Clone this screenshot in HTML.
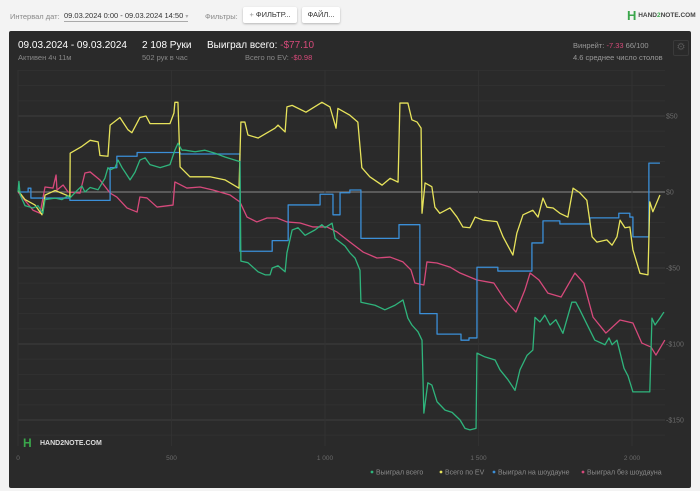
<!DOCTYPE html>
<html><head><meta charset="utf-8"><style>
body{margin:0;width:700px;height:491px;background:#f3f3f3;font-family:"Liberation Sans",sans-serif;overflow:hidden;position:relative}
.t{position:absolute;white-space:nowrap}
.btn{position:absolute;background:#fff;border-radius:2px;box-shadow:0 1px 2px rgba(0,0,0,.25);font-size:7.5px;color:#333;text-align:center;line-height:16px}
#panel{position:absolute;left:9px;top:31px;width:682px;height:457px;background:#2a2a2a;border-radius:2px}
</style></head><body>
<div class="t" style="left:10px;top:12px;font-size:7.5px;color:#888">Интервал дат:</div>
<div class="t" style="left:64px;top:11px;font-size:7.5px;color:#333;border-bottom:1px solid #aaa;padding-bottom:1px">09.03.2024 0:00 - 09.03.2024 14:50 <span style="color:#aaa;font-size:6px">▾</span></div>
<div class="t" style="left:205px;top:12px;font-size:7.5px;color:#888">Фильтры:</div>
<div class="btn" style="left:243px;top:7px;width:54px;height:16px"><span style="color:#999">+ </span>ФИЛЬТР...</div>
<div class="btn" style="left:302px;top:7px;width:38px;height:16px">ФАЙЛ...</div>
<div class="t" style="left:627px;top:8px;font-size:6.5px;color:#444;font-weight:bold"><span style="color:#3aa64b;font-size:13px;vertical-align:middle">H</span> HAND<span style="color:#3aa64b">2</span>NOTE.COM</div>
<div id="panel"></div>
<div class="t" style="left:18px;top:40px;font-size:10px;color:#fff">09.03.2024 - 09.03.2024</div>
<div class="t" style="left:18px;top:53px;font-size:7.5px;color:#888">Активен 4ч 11м</div>
<div class="t" style="left:142px;top:40px;font-size:10px;color:#fff">2 108 Руки</div>
<div class="t" style="left:142px;top:53px;font-size:7.5px;color:#888">502 рук в час</div>
<div class="t" style="left:207px;top:40px;font-size:10px;color:#fff">Выиграл всего: <span style="color:#d64a7a">-$77.10</span></div>
<div class="t" style="left:245px;top:53px;font-size:7.5px;color:#888">Всего по EV: <span style="color:#d64a7a">-$0.98</span></div>
<div class="t" style="left:573px;top:41px;font-size:7.5px;color:#999">Винрейт: <span style="color:#d64a7a">-7.33</span> 66/100</div>
<div class="t" style="left:573px;top:53px;font-size:7.5px;color:#999">4.6 среднее число столов</div>
<div class="t" style="left:673px;top:40px;width:14px;height:14px;border:1px solid #3a3a3a;border-radius:2px;color:#555;font-size:10px;text-align:center;line-height:14px">⚙</div>
<svg id="chart" width="700" height="491" style="position:absolute;left:0;top:0"></svg>
<script>
const xTicks=[0,500,1000,1500,2000];
const xTickLabels=["0","500","1 000","1 500","2 000"];
const yTicks=[50,0,-50,-100,-150];
const yTickLabels=["$50","$0","-$50","-$100","-$150"];
const seriesNames=["Выиграл всего","Всего по EV","Выиграл на шоудауне","Выиграл без шоудауна"];
const greenHands=[0,3,7,23,49,65,81,88,121,143,163,169,195,208,218,235,261,283,293,300,316,326,339,349,365,381,397,414,430,463,495,511,521,534,544,577,609,642,674,707,723,726,749,782,805,821,828,847,870,876,893,912,935,967,990,1000,1023,1033,1065,1081,1098,1114,1117,1163,1195,1228,1254,1270,1283,1303,1316,1322,1335,1348,1365,1391,1414,1440,1456,1472,1492,1495,1521,1554,1570,1596,1619,1635,1658,1677,1684,1700,1716,1733,1752,1775,1804,1817,1830,1863,1879,1912,1925,1935,1951,1974,1987,2003,2058,2065,2075,2091,2104];
const greenVals=[0,7,-2,-9,-10.5,-9,-14,-5,-4,-5,-2.5,-4,1.5,4,0,3,1.5,9,16,14.5,16,21,16,13,8,13,21,22.5,18,16,18,27.5,32,27.5,27.5,26.5,27.5,25.5,23,21,20,-45.5,-46.5,-52.5,-54.5,-54.5,-50,-48.5,-52.5,-40,-25,-23.5,-28.5,-25,-21.5,-23.5,-20.5,-30.5,-35.5,-40,-43.5,-51.5,-72.5,-74.5,-77.5,-74.5,-71,-83,-87.5,-92,-97.5,-145.5,-125.5,-127,-138,-143.5,-145,-150,-155.5,-156.5,-155.5,-106,-108.5,-110.5,-117,-123.5,-130.5,-117,-107.5,-104,-82.5,-85.5,-81,-87.5,-84,-93,-72.5,-72.5,-77.5,-91,-97.5,-100.5,-96,-100.5,-97.5,-116,-121,-131.5,-131.5,-83,-87.5,-83,-79];
const evHands=[0,23,55,78,88,121,169,170,208,235,261,267,293,300,332,358,371,397,417,430,463,495,508,511,521,528,560,593,625,674,720,726,739,749,782,837,847,870,876,893,938,990,1016,1036,1042,1081,1107,1120,1146,1186,1212,1238,1244,1270,1283,1300,1313,1316,1326,1348,1358,1374,1407,1430,1449,1472,1489,1515,1560,1580,1612,1625,1645,1677,1694,1710,1723,1743,1765,1791,1808,1830,1853,1870,1886,1918,1935,1951,1961,1977,1993,2003,2026,2052,2058,2068,2091];
const evVals=[1,-5,-8.5,-15,-2,1,-3,25.5,30,34,33,24,23.5,44,49,41,39,49,50,45,45,45,52,59,59,16.5,10,10,10,8,2.5,46,46,37.5,35.5,42,44,39.5,56,57,52.5,59,56,42,55,50.5,46,16,10,4.5,9,6.5,58.5,58.5,47.5,46,42,-14,6,3.5,-10,-14,-10.5,-16.5,-23,-23.5,-16.5,-18.5,-19.5,-29.5,-41.5,-27,-15,-12,-16.5,-4,-10,-10.5,-14,-16.5,2.5,-0.5,-5.5,-29.5,-33,-31.5,-35,-29.5,-18.5,-23.5,-23,-38,-53.5,-54.5,-6.5,-13,-2];
const sdHands=[0,33,42,169,300,322,388,528,723,828,880,984,1026,1049,1081,1117,1241,1309,1365,1443,1469,1495,1563,1674,1710,1765,1863,1957,1993,2003,2055,2091];
const sdVals=[0,2.5,-4,-5.5,16,23.5,26,25,-39,-32,-8.5,-1.5,-15,-0.5,1.3,-30.5,-21.5,-80,-93.5,-97.5,-96,-49.5,-52,-33.5,-19,-21,-17,-14,-16.5,-29.5,19,19];
const nsdHands=[0,49,72,88,114,124,127,147,163,202,218,235,267,300,322,355,388,397,420,453,505,511,550,593,635,691,723,746,778,811,844,876,919,961,1006,1039,1081,1124,1169,1212,1254,1280,1293,1322,1332,1365,1407,1440,1495,1550,1586,1622,1651,1668,1697,1726,1769,1814,1843,1873,1915,1961,2003,2032,2062,2078,2107];
const nsdVals=[0,-12,-14,3.3,2.6,11.2,1.3,4.6,0,-0.7,12.5,13.2,7.9,-0.7,-3.3,-10.5,-13.2,-3.3,-3.9,-9.9,-8.6,6.6,2.6,3.3,1.3,-2,-6.6,-16.5,-19.7,-17.1,-17.1,-19.7,-20.4,-23,-23,-26.3,-32.9,-39.5,-43.4,-42.8,-46,-51.3,-59.9,-61.2,-46,-46.7,-49.4,-53.3,-57.9,-59.9,-71,-79,-64.5,-53.3,-57.9,-66.5,-69.1,-53.3,-59.9,-82.3,-92.8,-84.2,-86.2,-99.4,-102,-107.3,-97.4];
const colors=["#2fb47c","#e7e35b","#3b8fd8","#d6497b"];

const svg=document.getElementById('chart');
const NS='http://www.w3.org/2000/svg';
const X=h=>18+h*0.307;
const Y=v=>192-v*1.52;
function mk(tag,attrs){const e=document.createElementNS(NS,tag);for(const k in attrs)e.setAttribute(k,attrs[k]);svg.appendChild(e);return e;}
for(let v=80;v>=-160;v-=10){
  const l=mk('line',{x1:18,x2:665,y1:Y(v),y2:Y(v),stroke:v===0?'#8a8a8a':(v%50===0?'#444444':'#323232'),'stroke-width':v===0?1:0.8});
  
  
}
xTicks.forEach((h,i)=>{
  const l=mk('line',{x1:X(h),x2:X(h),y1:70,y2:446,stroke:'#343434','stroke-width':0.8});
  
  
  const t=mk('text',{x:X(h),y:460,'font-size':6.5,fill:'#6a6a6a','text-anchor':'middle','font-family':'Liberation Sans'});
  t.textContent=xTickLabels[i];
  
  
});
yTicks.forEach((v,i)=>{
  const t=mk('text',{x:666,y:Y(v)+2.5,'font-size':7,fill:'#6a6a6a','font-family':'Liberation Sans'});
  t.textContent=yTickLabels[i];
  
  
});
function line(hs,vs,col,step,name){
  let d='';
  hs.forEach((h,i)=>{
    if(i===0)d+='M'+X(h)+' '+Y(vs[i]);
    else if(step)d+='H'+X(h)+'V'+Y(vs[i]);
    else d+='L'+X(h)+' '+Y(vs[i]);
  });
  const p=mk('path',{d:d,fill:'none',stroke:col,'stroke-width':1.3,'stroke-linejoin':'round'});
  
  
}
line(nsdHands,nsdVals,colors[3],false,'series-non-showdown');
line(sdHands,sdVals,colors[2],true,'series-showdown');
line(evHands,evVals,colors[1],false,'series-ev');
line(greenHands,greenVals,colors[0],false,'series-total-won');
const legX=[372,441,494,583];
seriesNames.forEach((n,i)=>{
  const c=mk('circle',{cx:legX[i],cy:472,r:1.4,fill:colors[i]});
  
  
  const t=mk('text',{x:legX[i]+4,y:474.5,'font-size':7,fill:'#8a8a8a','font-family':'Liberation Sans'});
  t.textContent=n;
  
  
});
const wm=mk('text',{x:40,y:445,'font-size':7,fill:'#ddd','font-weight':'bold','font-family':'Liberation Sans'});
wm.textContent='HAND2NOTE.COM';


const wi=mk('text',{x:23,y:447,'font-size':12,fill:'#3aa64b','font-weight':'bold','font-family':'Liberation Sans'});
wi.textContent='H';


</script>
</body></html>
